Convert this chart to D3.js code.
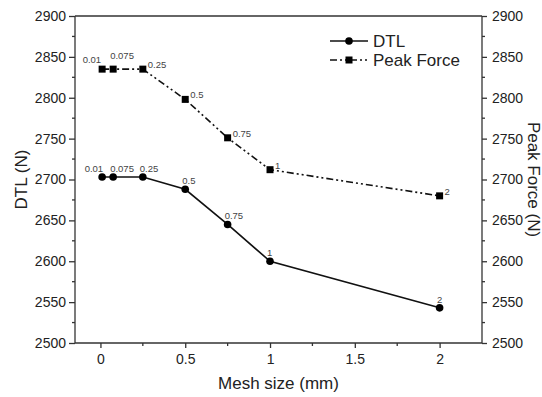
<!DOCTYPE html>
<html>
<head>
<meta charset="utf-8">
<script src="https://cdn.jsdelivr.net/npm/d3@7"></script>
<style>
  body { margin: 0; background: #fff; }
  svg { display: block; font-family: "Liberation Sans", Arial, sans-serif; }
</style>
</head>
<body>
<svg id="chart" width="542" height="397"></svg>
<script>
// ---- data ----
const meshSizes = [0.01, 0.075, 0.25, 0.5, 0.75, 1, 2];
const meshLabels = ["0.01", "0.075", "0.25", "0.5", "0.75", "1", "2"];
const dtlValues = [2703, 2703, 2703, 2688, 2645, 2600, 2543];
const peakValues = [2835, 2835, 2835, 2798, 2751, 2712, 2680];
const xTicks = [0, 0.5, 1, 1.5, 2];
const xTickLabels = ["0", "0.5", "1", "1.5", "2"];
const xMinorTicks = [0.25, 0.75, 1.25, 1.75];
const yTicks = [2500, 2550, 2600, 2650, 2700, 2750, 2800, 2850, 2900];
const yMinorTicks = [2525, 2575, 2625, 2675, 2725, 2775, 2825, 2875];
const seriesNames = ["DTL", "Peak Force"];
const xTitle = "Mesh size (mm)";
const yTitleLeft = "DTL (N)";
const yTitleRight = "Peak Force (N)";

// ---- layout ----
const L = 75, R = 482, T = 16, B = 343;
const svg = d3.select("#chart");
const x = d3.scaleLinear().domain([-0.15, 2.25]).range([L, R]);
const y = d3.scaleLinear().domain([2500, 2900]).range([B, T]);
const axisColor = "#333";
const textColor = "#222";
const fmt = d3.format("d");

// frame
svg.append("line").attr("x1", L).attr("x2", R).attr("y1", T).attr("y2", T)
  .attr("stroke", axisColor).attr("stroke-width", 1.3);

// bottom axis
const gx = svg.append("g").attr("transform", `translate(0,${B})`)
  .call(d3.axisBottom(x).tickValues(xTicks).tickFormat((d, i) => xTickLabels[i]).tickSizeOuter(0).tickSize(5).tickPadding(6));
gx.append("g").selectAll("line").data(xMinorTicks).join("line")
  .attr("x1", d => x(d)).attr("x2", d => x(d)).attr("y1", 0).attr("y2", 3);

// left axis
const gl = svg.append("g").attr("transform", `translate(${L},0)`)
  .call(d3.axisLeft(y).tickValues(yTicks).tickFormat(fmt).tickSizeOuter(0).tickSize(6).tickPadding(3));
gl.append("g").selectAll("line").data(yMinorTicks).join("line")
  .attr("x1", 0).attr("x2", -3).attr("y1", d => y(d)).attr("y2", d => y(d));

// right axis
const gr = svg.append("g").attr("transform", `translate(${R},0)`)
  .call(d3.axisRight(y).tickValues(yTicks).tickFormat(fmt).tickSizeOuter(0).tickSize(5).tickPadding(5));
gr.append("g").selectAll("line").data(yMinorTicks).join("line")
  .attr("x1", 0).attr("x2", 3).attr("y1", d => y(d)).attr("y2", d => y(d));

[gx, gl, gr].forEach(g => {
  g.select(".domain").attr("stroke", axisColor).attr("stroke-width", 1.3);
  g.selectAll("line").attr("stroke", axisColor).attr("stroke-width", 1.3);
  g.selectAll("text").attr("fill", textColor).attr("font-size", 14)
    .attr("font-family", "'Liberation Sans', Arial, sans-serif");
});
gl.select(".domain").attr("d", `M0,${B}V${T}`);
gr.select(".domain").attr("d", `M0,${B}V${T}`);
gx.select(".domain").attr("d", `M${L},0H${R}`);

// titles
svg.append("text").attr("x", (L + R) / 2).attr("y", 389)
  .attr("text-anchor", "middle").attr("font-size", 17).attr("fill", textColor).text(xTitle);
svg.append("text").attr("transform", `translate(27,${(T + B) / 2}) rotate(-90)`)
  .attr("text-anchor", "middle").attr("font-size", 17).attr("fill", textColor).text(yTitleLeft);
svg.append("text").attr("transform", `translate(528,${(T + B) / 2}) rotate(90)`)
  .attr("text-anchor", "middle").attr("font-size", 17).attr("fill", textColor).text(yTitleRight);

// series
const dtlData = meshSizes.map((m, i) => ({ m, v: dtlValues[i], lab: meshLabels[i], i }));
const peakData = meshSizes.map((m, i) => ({ m, v: peakValues[i], lab: meshLabels[i], i }));
const line = d3.line().x(d => x(d.m)).y(d => y(d.v));
const dashPeak = "7,3,2,3,2,3";

svg.append("path").datum(dtlData).attr("d", line)
  .attr("fill", "none").attr("stroke", "#111").attr("stroke-width", 1.6);
svg.append("path").datum(peakData).attr("d", line)
  .attr("fill", "none").attr("stroke", "#111").attr("stroke-width", 1.6)
  .attr("stroke-dasharray", dashPeak);

svg.append("g").selectAll("circle").data(dtlData).join("circle")
  .attr("cx", d => x(d.m)).attr("cy", d => y(d.v)).attr("r", 3.8).attr("fill", "#000");
svg.append("g").selectAll("rect").data(peakData).join("rect")
  .attr("x", d => x(d.m) - 3.5).attr("y", d => y(d.v) - 3.5)
  .attr("width", 7).attr("height", 7).attr("fill", "#000");

// point labels
const labFont = 9.5, labColor = "#444";
svg.append("g").selectAll("text").data(dtlData).join("text")
  .attr("x", d => d.i === 0 ? x(d.m) + 1 : (d.i === dtlData.length - 1 ? x(d.m) : x(d.m) - 3))
  .attr("y", d => y(d.v) - 5)
  .attr("text-anchor", d => d.i === 0 ? "end" : (d.i === dtlData.length - 1 ? "middle" : "start"))
  .attr("font-size", labFont).attr("fill", labColor).text(d => d.lab);
svg.append("g").selectAll("text").data(peakData).join("text")
  .attr("x", d => d.i === 0 ? x(d.m) - 1 : (d.i === 1 ? x(d.m) - 3 : x(d.m) + 5))
  .attr("y", d => d.i === 0 ? y(d.v) - 6 : (d.i === 1 ? y(d.v) - 10 : y(d.v) - 1))
  .attr("text-anchor", d => d.i === 0 ? "end" : "start")
  .attr("font-size", labFont).attr("fill", labColor).text(d => d.lab);

// legend
const lg = svg.append("g");
const rows = [41, 60];
lg.append("line").attr("x1", 330).attr("x2", 368).attr("y1", rows[0]).attr("y2", rows[0])
  .attr("stroke", "#111").attr("stroke-width", 1.6);
lg.append("circle").attr("cx", 349).attr("cy", rows[0]).attr("r", 3.8).attr("fill", "#000");
lg.append("line").attr("x1", 330).attr("x2", 368).attr("y1", rows[1]).attr("y2", rows[1])
  .attr("stroke", "#111").attr("stroke-width", 1.6).attr("stroke-dasharray", dashPeak);
lg.append("rect").attr("x", 345.5).attr("y", rows[1] - 3.5).attr("width", 7).attr("height", 7).attr("fill", "#000");
lg.selectAll("text.leg").data(seriesNames).join("text").attr("class", "leg")
  .attr("x", 373).attr("y", (d, i) => rows[i] + 6).attr("font-size", 17).attr("fill", textColor).text(d => d);
</script>
</body>
</html>
